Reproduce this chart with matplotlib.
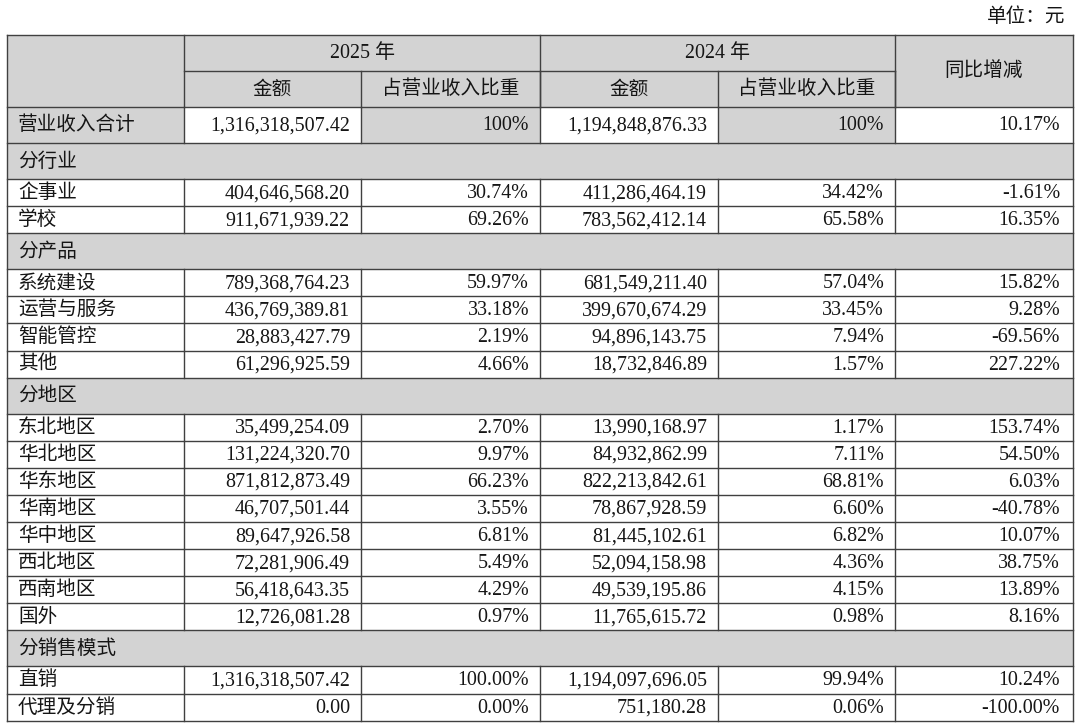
import matplotlib
matplotlib.use('Agg')
import matplotlib.pyplot as plt
from matplotlib.patches import Rectangle

plt.rcParams['font.family'] = ['Liberation Serif', 'Noto Sans CJK SC']

unit_note = '单位：元'
years = ['2025 年', '2024 年']
sub_headers = ['金额', '占营业收入比重']
change_header = '同比增减'

total_label = '营业收入合计'
total_row = ['1,316,318,507.42', '100%', '1,194,848,876.33', '100%', '10.17%']

industry_labels = ['企事业', '学校']
industry_rows = [
    ['404,646,568.20', '30.74%', '411,286,464.19', '34.42%', '-1.61%'],
    ['911,671,939.22', '69.26%', '783,562,412.14', '65.58%', '16.35%'],
]

product_labels = ['系统建设', '运营与服务', '智能管控', '其他']
product_rows = [
    ['789,368,764.23', '59.97%', '681,549,211.40', '57.04%', '15.82%'],
    ['436,769,389.81', '33.18%', '399,670,674.29', '33.45%', '9.28%'],
    ['28,883,427.79', '2.19%', '94,896,143.75', '7.94%', '-69.56%'],
    ['61,296,925.59', '4.66%', '18,732,846.89', '1.57%', '227.22%'],
]

region_labels = ['东北地区', '华北地区', '华东地区', '华南地区', '华中地区',
                 '西北地区', '西南地区', '国外']
region_rows = [
    ['35,499,254.09', '2.70%', '13,990,168.97', '1.17%', '153.74%'],
    ['131,224,320.70', '9.97%', '84,932,862.99', '7.11%', '54.50%'],
    ['871,812,873.49', '66.23%', '822,213,842.61', '68.81%', '6.03%'],
    ['46,707,501.44', '3.55%', '78,867,928.59', '6.60%', '-40.78%'],
    ['89,647,926.58', '6.81%', '81,445,102.61', '6.82%', '10.07%'],
    ['72,281,906.49', '5.49%', '52,094,158.98', '4.36%', '38.75%'],
    ['56,418,643.35', '4.29%', '49,539,195.86', '4.15%', '13.89%'],
    ['12,726,081.28', '0.97%', '11,765,615.72', '0.98%', '8.16%'],
]

channel_labels = ['直销', '代理及分销']
channel_rows = [
    ['1,316,318,507.42', '100.00%', '1,194,097,696.05', '99.94%', '10.24%'],
    ['0.00', '0.00%', '751,180.28', '0.06%', '-100.00%'],
]

sections = [
    ('分行业', industry_labels, industry_rows),
    ('分产品', product_labels, product_rows),
    ('分地区', region_labels, region_rows),
    ('分销售模式', channel_labels, channel_rows),
]

# layout (pixels)
col_x = [7, 184, 361, 540, 718, 895, 1073]
top = 35
head_h = 36
sec_h = 36
row_h = 27.1
gray = '#d3d3d3'
line_c = '#404040'
lw = 1.0
num_fs = 14.4
cjk_fs = 14.1
txt_c = '#151515'

fig = plt.figure(figsize=(10.8, 7.28), dpi=100)
ax = fig.add_axes([0, 0, 1, 1])
ax.set_xlim(0, 1080)
ax.set_ylim(728, 0)
ax.axis('off')


def hline(y, x0, x1):
    ax.plot([x0, x1], [y, y], color=line_c, lw=lw, solid_capstyle='projecting')


def vline(x, y0, y1):
    ax.plot([x, x], [y0, y1], color=line_c, lw=lw, solid_capstyle='projecting')


def fill(x0, x1, y0, y1, c):
    ax.add_patch(Rectangle((x0, y0), x1 - x0, y1 - y0, facecolor=c, edgecolor='none', zorder=0))


def cjk(x, y, text, ha='left'):
    ax.text(x, y, text, ha=ha, va='center', fontsize=cjk_fs, color=txt_c,
            fontweight='light')


def number_cells(vals, y):
    for j, v in enumerate(vals):
        pad = 13 if j == 4 else 11
        ax.text(col_x[j + 2] - pad, y + 1, v, ha='right', va='center',
                fontsize=num_fs, color=txt_c)


cjk(1065, 18, unit_note, ha='right')

# header
y = top
fill(col_x[0], col_x[-1], y, y + 2 * head_h, gray)
for i, yr in enumerate(years):
    xa, xb = col_x[1 + 2 * i], col_x[3 + 2 * i]
    ax.text((xa + xb) / 2, y + head_h / 2 + 1, yr, ha='center', va='center',
            fontsize=num_fs, color=txt_c)
    for k, s in enumerate(sub_headers):
        x0, x1 = col_x[1 + 2 * i + k], col_x[2 + 2 * i + k]
        cjk((x0 + x1) / 2, y + head_h * 1.5 + 1, s, ha='center')
        vline(x1, y + head_h, y + 2 * head_h)
cjk((col_x[5] + col_x[6]) / 2, y + head_h, change_header, ha='center')
hline(y, col_x[0], col_x[-1])
hline(y + head_h, col_x[1], col_x[5])
for x in [col_x[1], col_x[3], col_x[5]]:
    vline(x, y, y + 2 * head_h)
y += 2 * head_h
hline(y, col_x[0], col_x[-1])

# total row
for j in range(6):
    fill(col_x[j], col_x[j + 1], y, y + head_h, gray if j in (0, 2, 4) else 'white')
cjk(18, y + head_h / 2 + 1, total_label)
number_cells(total_row, y + head_h / 2)
for x in col_x[1:-1]:
    vline(x, y, y + head_h)
y += head_h
hline(y, col_x[0], col_x[-1])

# sections
for title, labels, rows in sections:
    fill(col_x[0], col_x[-1], y, y + sec_h, gray)
    cjk(18, y + sec_h / 2 + 1, title)
    y += sec_h
    hline(y, col_x[0], col_x[-1])
    for lab, vals in zip(labels, rows):
        cjk(18, y + row_h / 2 + 1, lab)
        number_cells(vals, y + row_h / 2)
        for x in col_x[1:-1]:
            vline(x, y, y + row_h)
        y += row_h
        hline(y, col_x[0], col_x[-1])

vline(col_x[0], top, y)
vline(col_x[-1], top, y)

fig.savefig('out.png', dpi=100)
